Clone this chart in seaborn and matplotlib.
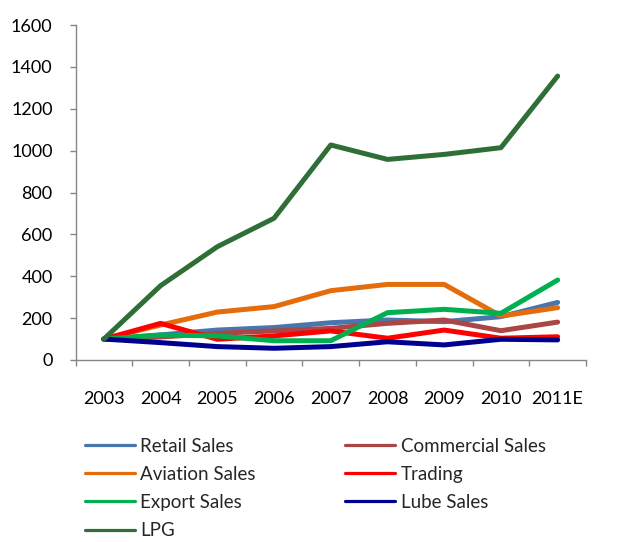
import matplotlib
matplotlib.use("Agg")
import matplotlib.pyplot as plt
from matplotlib.lines import Line2D
from matplotlib.ticker import FixedLocator, NullFormatter
import seaborn as sns
import pandas as pd

years = ["2003", "2004", "2005", "2006", "2007", "2008", "2009", "2010", "2011E"]

retail_sales = [100, 120, 143, 155, 178, 191, 183, 207, 275]
commercial_sales = [100, 110, 127, 139, 151, 175, 191, 140, 181]
aviation_sales = [100, 167, 229, 255, 331, 361, 361, 210, 250]
trading = [100, 175, 99, 115, 139, 104, 143, 104, 111]
export_sales = [100, 119, 115, 92, 92, 226, 242, 223, 382]
lube_sales = [100, 83, 64, 56, 64, 87, 72, 99, 96]
lpg = [100, 355, 541, 677, 1027, 958, 982, 1014, 1356]

series_names = ["Retail Sales", "Commercial Sales", "Aviation Sales", "Trading",
                "Export Sales", "Lube Sales", "LPG"]
series_values = [retail_sales, commercial_sales, aviation_sales, trading,
                 export_sales, lube_sales, lpg]
series_colors = ["#4A76AE", "#AA4644", "#E46C0A", "#FF0000",
                 "#00B050", "#00008E", "#2F6E37"]

y_ticks = [0, 200, 400, 600, 800, 1000, 1200, 1400, 1600]

rows = []
for name, vals in zip(series_names, series_values):
    for i, v in enumerate(vals):
        rows.append({"pos": i, "year": years[i], "series": name, "value": v})
df = pd.DataFrame(rows)

sns.set_style("white")
plt.rcParams["font.family"] = ["Lato", "DejaVu Sans"]

fig = plt.figure(figsize=(6.33, 5.42), dpi=100)
ax = fig.add_axes([75.5 / 633, 1 - 360 / 542, (586 - 75.5) / 633, (360 - 25) / 542])

sns.lineplot(data=df, x="pos", y="value", hue="series", hue_order=series_names,
             palette=series_colors, linewidth=3.6, sort=False, legend=False, ax=ax)

ax.set_xlim(-0.5, len(years) - 0.5)
ax.set_ylim(0, 1600)
ax.set_xlabel("")
ax.set_ylabel("")

grey = "#868686"
for side in ["top", "right"]:
    ax.spines[side].set_visible(False)
for side in ["left", "bottom"]:
    ax.spines[side].set_color(grey)
    ax.spines[side].set_linewidth(1.0)

# category labels at the centres, tick marks between categories
ax.set_xticks(range(len(years)))
ax.set_xticklabels(years)
ax.xaxis.set_minor_locator(FixedLocator([i - 0.5 for i in range(len(years) + 1)]))
ax.xaxis.set_minor_formatter(NullFormatter())
ax.tick_params(axis="x", which="major", length=0, pad=22.5, labelsize=13, colors="black")
ax.tick_params(axis="x", which="minor", length=4.3, width=1.0, color=grey, direction="out",
               bottom=True)

ax.set_yticks(y_ticks)
ax.set_yticklabels([str(t) for t in y_ticks])
ax.tick_params(axis="y", which="major", length=4.0, width=1.0, color=grey, direction="out",
               pad=12.5, labelsize=13, labelcolor="black", left=True)
ax.grid(False)

handles = [Line2D([0], [0], color=c, linewidth=2.3) for c in series_colors]
# column-major fill: left column then right column
order = [0, 2, 4, 6, 1, 3, 5]
fig.legend([handles[i] for i in order], [series_names[i] for i in order],
           loc="upper left", bbox_to_anchor=(85 / 633, 1 - 437.5 / 542),
           ncol=2, frameon=False, borderpad=0, borderaxespad=0,
           handlelength=2.66, handletextpad=0.3, columnspacing=4.76,
           labelspacing=0.6, fontsize=13.5)

fig.savefig("out.png", dpi=100)
